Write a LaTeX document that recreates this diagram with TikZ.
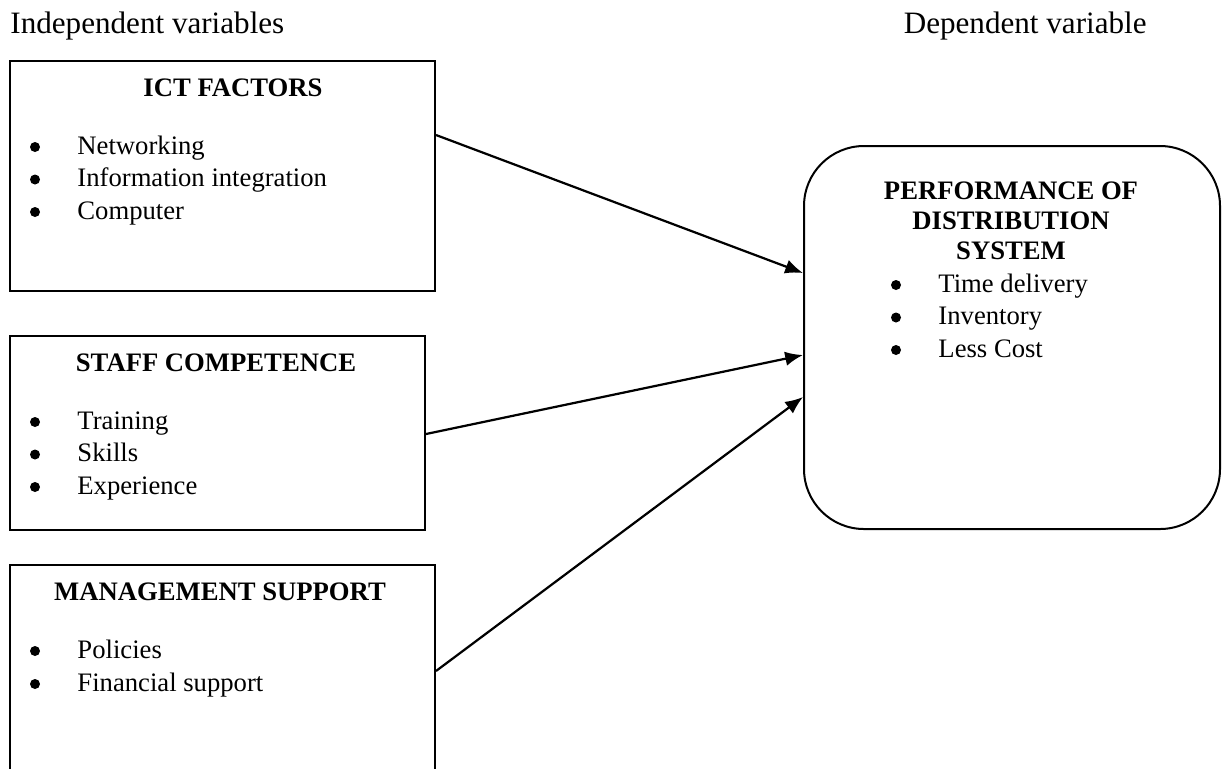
\documentclass[tikz,border=0pt]{standalone}
\usepackage{fontspec}
\setmainfont{Liberation Serif}
\usetikzlibrary{arrows.meta}
\newdimen\pxu \pxu=0.45pt
\tikzset{>=latex}
\tikzstyle{box} = [draw, line width=0.9pt, inner sep=0, anchor=north west]
\tikzstyle{conn} = [-{Latex[length=8pt,width=6.5pt]}, line width=1pt]
\tikzstyle{head} = [font=\fontsize{14}{17}\selectfont, inner sep=0]
\tikzstyle{ttl} = [font=\fontsize{12}{14}\selectfont\bfseries, inner sep=0, anchor=base]
\tikzstyle{item} = [font=\fontsize{12}{14}\selectfont, inner sep=0, anchor=base west]
\tikzstyle{dot} = [circle, fill, inner sep=0, minimum size=4.5pt]

\begin{document}
\begin{tikzpicture}[x=0.45pt, y=-0.45pt]
\useasboundingbox (0,0) rectangle (1223,768);
\clip (0,0) rectangle (1223,768);
\node [head, anchor=base west] (indep) at (10,33) {Independent variables};
\node [head, anchor=base east] (dep) at (1147,33) {Dependent variable};
% independent boxes
\node [box, minimum width=425\pxu, minimum height=230\pxu] (ict) at (9,60) {};
\node [box, minimum width=415\pxu, minimum height=194\pxu] (staff) at (9,335) {};
\node [box, minimum width=425\pxu, minimum height=215\pxu] (mgmt) at (9,564) {};
\node [ttl] (ictT) at (233,96) {ICT FACTORS};
\node [ttl] (staffT) at (216,371) {STAFF COMPETENCE};
\node [ttl] (mgmtT) at (220,600) {MANAGEMENT SUPPORT};
\foreach \txt [count=\i] in {Networking, Information integration, Computer} {
  \node [dot] (ictb\i) at (35,147+32.5*\i-32.5) {};
  \node [item] (icti\i) at (77,154+32.5*\i-32.5) {\txt};
}
\foreach \txt [count=\i] in {Training, Skills, Experience} {
  \node [dot] (staffb\i) at (35,422+32.5*\i-32.5) {};
  \node [item] (staffi\i) at (77,429+32.5*\i-32.5) {\txt};
}
\foreach \txt [count=\i] in {Policies, Financial support} {
  \node [dot] (mgmtb\i) at (35,651+33*\i-33) {};
  \node [item] (mgmti\i) at (77,658+33*\i-33) {\txt};
}
% dependent box
\node [box, rounded corners=27pt, minimum width=416\pxu, minimum height=383\pxu] (perf) at (803,145) {};
\node [ttl] (perfT1) at (1011,199) {PERFORMANCE OF};
\node [ttl] (perfT2) at (1011,229) {DISTRIBUTION};
\node [ttl] (perfT3) at (1011,259) {SYSTEM};
\foreach \txt [count=\i] in {Time delivery, Inventory, Less Cost} {
  \node [dot] (perfb\i) at (896,285+32.5*\i-32.5) {};
  \node [item] (perfi\i) at (938,292+32.5*\i-32.5) {\txt};
}
\draw [conn] (ict.east |- 0,135) -- (perf.west |- 0,273);
\draw [conn] (staff.east |- 0,434) -- (perf.west |- 0,355);
\draw [conn] (mgmt.east |- 0,671) -- (perf.west |- 0,397);
\end{tikzpicture}
\end{document}
